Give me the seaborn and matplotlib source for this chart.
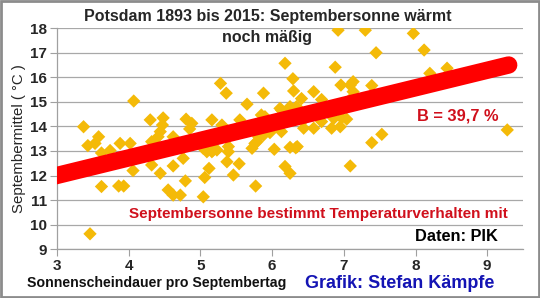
import matplotlib
matplotlib.use("Agg")
import matplotlib.pyplot as plt
import seaborn as sns
import pandas as pd
from matplotlib.patches import Rectangle

# Sonnenscheindauer pro Septembertag (h) and Septembermittel (°C)
sun_hours = [
    3.37, 3.46, 3.43, 3.53, 3.58, 3.62, 3.74, 3.88, 4.02, 4.07,
    4.06, 3.62, 3.86, 3.93, 4.30, 4.48, 4.47, 4.44, 4.41, 4.32,
    4.62, 4.32, 4.44, 4.55, 4.62, 4.72, 4.62, 4.79, 4.76, 4.80,
    4.88, 4.85, 5.04, 5.06, 5.12, 5.16, 5.04, 5.16, 5.23, 5.28,
    5.36, 5.30, 5.39, 5.39, 5.37, 5.46, 5.54, 5.55, 5.65, 5.72,
    5.76, 5.81, 5.77, 5.88, 5.85, 5.88, 5.97, 6.03, 6.18, 6.29,
    6.30, 6.41, 6.13, 6.34, 6.13, 6.25, 6.33, 6.44, 6.18, 6.25,
    6.58, 6.69, 6.58, 6.83, 6.95, 6.86, 6.97, 7.04, 6.92, 7.30,
    7.97, 7.45, 8.12, 6.88, 6.96, 7.13, 7.13, 7.39, 7.39, 7.53,
    7.09, 8.20, 8.44, 9.28, 6.69, 7.09, 7.09, 5.90, 5.18, 5.09,
    6.35, 6.11, 6.25, 6.44, 5.79,
]
sept_temp = [
    13.99, 9.62, 13.22, 13.31, 13.58, 12.92, 13.02, 13.31, 13.31, 15.04,
    12.20, 11.55, 11.57, 11.57, 14.27, 14.35, 14.06, 13.79, 13.58, 13.38,
    13.58, 12.43, 12.09, 11.41, 11.20, 11.20, 12.39, 11.78, 12.70, 14.30,
    14.13, 13.90, 11.13, 11.92, 12.29, 14.27, 13.11, 12.97, 13.04, 15.76,
    15.36, 14.06, 13.18, 12.97, 12.56, 12.02, 12.48, 14.27, 14.91, 13.11,
    13.31, 13.58, 11.57, 15.36, 14.47, 13.65, 13.75, 13.07, 16.58, 15.95,
    15.45, 15.14, 14.67, 14.81, 13.79, 13.15, 13.13, 13.93, 12.37, 12.09,
    15.42, 15.10, 13.93, 13.93, 13.99, 14.33, 14.35, 14.30, 17.93, 17.93,
    17.80, 17.01, 17.12, 16.42, 15.69, 15.83, 15.42, 15.67, 13.34, 13.68,
    12.39, 16.17, 16.38, 13.86, 14.20, 15.69, 15.11, 14.40, 13.04, 12.97,
    13.18, 14.74, 14.81, 14.27, 13.38,
]

# linear trend
trend_x = [2.8, 9.3]
trend_y = [11.86, 16.51]

x_ticks = [3, 4, 5, 6, 7, 8, 9]
y_ticks = [9, 10, 11, 12, 13, 14, 15, 16, 17, 18]

df = pd.DataFrame({"sonne": sun_hours, "temp": sept_temp})
trend = pd.DataFrame({"x": trend_x, "y": trend_y})

sns.set_theme(style="white")
plt.rcParams["font.family"] = ["Liberation Sans", "DejaVu Sans"]

fig = plt.figure(figsize=(5.40, 2.98), dpi=100)
ax = fig.add_axes([0.1056, 0.1644, 0.8630, 0.7400])

sns.scatterplot(data=df, x="sonne", y="temp", marker="D", s=46,
                color="#F4BA08", edgecolor="none", linewidth=0, ax=ax, zorder=3)
sns.lineplot(data=trend, x="x", y="y", color="#FF0000", linewidth=12.5,
             solid_capstyle="round", ax=ax, zorder=4)

ax.set_xlim(3, 9.5)
ax.set_ylim(9, 18)
ax.set_xticks(x_ticks)
ax.set_yticks(y_ticks)
ax.set_xticklabels([str(v) for v in x_ticks], fontsize=11, fontweight="bold")
ax.set_yticklabels([str(v) for v in y_ticks], fontsize=11, fontweight="bold")
ax.tick_params(axis="both", direction="out", length=5, width=0.8,
               color="#A0A0A0", pad=2, bottom=True, left=True)
ax.yaxis.grid(True, color="#A8A8A8", linewidth=0.9)
ax.xaxis.grid(False)
ax.set_axisbelow(True)
for side in ["top", "right"]:
    ax.spines[side].set_visible(False)
for side in ["left", "bottom"]:
    ax.spines[side].set_color("#A0A0A0")
    ax.spines[side].set_linewidth(0.9)

ax.set_xlabel("")
ax.set_ylabel("Septembermittel ( °C )", fontsize=10.8, labelpad=3)

fig.text(0.495, 0.943, "Potsdam 1893 bis 2015: Septembersonne wärmt",
         ha="center", va="center", fontsize=11.5, fontweight="bold")
fig.text(0.495, 0.873, "noch mäßig", ha="center", va="center",
         fontsize=11.5, fontweight="bold")

fig.text(0.772, 0.61, "B = 39,7 %", ha="left",
         va="center", fontsize=11.8, fontweight="bold", color="#D0101C")
fig.text(0.239, 0.283, "Septembersonne bestimmt Temperaturverhalten mit",
         ha="left", va="center", fontsize=11, fontweight="bold", color="#D0101C")
fig.text(0.768, 0.205, "Daten: PIK", ha="left", va="center",
         fontsize=11.8, fontweight="bold", color="black")
fig.text(0.05, 0.05, "Sonnenscheindauer pro Septembertag", ha="left",
         va="center", fontsize=10.2, fontweight="bold", color="#111111")
fig.text(0.565, 0.05, "Grafik: Stefan Kämpfe", ha="left", va="center",
         fontsize=13, fontweight="bold", color="#1414B4")

fig.patches.append(Rectangle((0.002, 0.003), 0.996, 0.994, transform=fig.transFigure,
                             fill=False, edgecolor="#8C8C8C", linewidth=2.0))

fig.savefig("out.png", dpi=100)
